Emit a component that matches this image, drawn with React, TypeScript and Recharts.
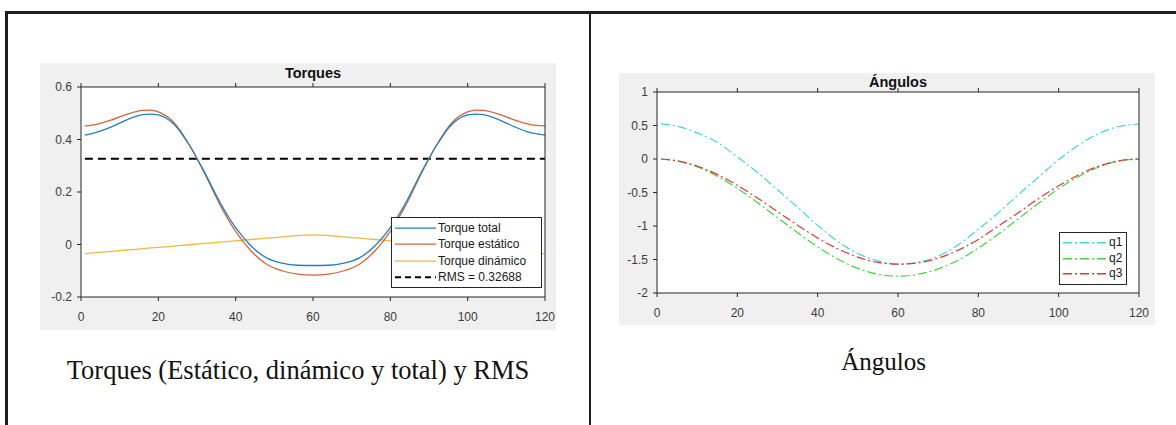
import React from 'react';
import { LineChart, Line, XAxis, YAxis, ReferenceLine, ReferenceArea, Legend } from 'recharts';

// ---- Torques panel data ----
const torqueX = [1, 4, 8, 12, 16, 18, 20, 24, 28, 32, 36, 40, 44, 48, 52, 56, 60, 64, 68, 72, 76, 80, 84, 88, 92, 96, 100, 102, 104, 108, 112, 116, 120];
const torqueTotal = [0.417, 0.427, 0.449, 0.476, 0.495, 0.497, 0.494, 0.459, 0.379, 0.274, 0.159, 0.064, -0.006, -0.051, -0.071, -0.079, -0.08, -0.079, -0.071, -0.051, -0.006, 0.064, 0.159, 0.274, 0.379, 0.459, 0.494, 0.497, 0.495, 0.476, 0.449, 0.427, 0.417];
const torqueStatic = [0.452, 0.458, 0.475, 0.497, 0.511, 0.512, 0.505, 0.465, 0.38, 0.27, 0.15, 0.05, -0.025, -0.075, -0.1, -0.113, -0.117, -0.113, -0.1, -0.075, -0.025, 0.05, 0.15, 0.27, 0.38, 0.465, 0.505, 0.512, 0.511, 0.497, 0.475, 0.458, 0.452];
const torqueDynamic = [-0.035, -0.031, -0.026, -0.021, -0.016, -0.013, -0.011, -0.006, -0.001, 0.004, 0.009, 0.014, 0.019, 0.024, 0.029, 0.034, 0.037, 0.034, 0.029, 0.024, 0.019, 0.014, 0.009, 0.004, -0.001, -0.006, -0.011, -0.013, -0.016, -0.021, -0.026, -0.031, -0.035];
const rmsValue = 0.32688;
const torqueXTicks = [0, 20, 40, 60, 80, 100, 120];
const torqueYTicks = [-0.2, 0, 0.2, 0.4, 0.6];

// ---- Angles panel data ----
const angleX = [1, 5, 10, 15, 20, 25, 30, 35, 40, 45, 50, 55, 60, 65, 70, 75, 80, 85, 90, 95, 100, 105, 110, 115, 120];
const q1 = [0.525, 0.49, 0.39, 0.25, 0.03, -0.2, -0.46, -0.72, -0.99, -1.23, -1.41, -1.52, -1.57, -1.54, -1.45, -1.28, -1.05, -0.8, -0.53, -0.27, -0.01, 0.21, 0.38, 0.485, 0.52];
const q2 = [0, -0.03, -0.117, -0.256, -0.437, -0.649, -0.875, -1.1, -1.31, -1.494, -1.633, -1.72, -1.75, -1.72, -1.64, -1.51, -1.33, -1.12, -0.89, -0.66, -0.44, -0.26, -0.12, -0.03, 0];
const q3 = [0, -0.027, -0.105, -0.23, -0.393, -0.582, -0.785, -0.988, -1.178, -1.34, -1.465, -1.544, -1.57, -1.55, -1.48, -1.36, -1.2, -1.0, -0.8, -0.59, -0.4, -0.235, -0.105, -0.027, 0];
const angleXTicks = [0, 20, 40, 60, 80, 100, 120];
const angleYTicks = [-2, -1.5, -1, -0.5, 0, 0.5, 1];

const torqueData = torqueX.map((x, i) => ({
  x,
  total: torqueTotal[i],
  estatico: torqueStatic[i],
  dinamico: torqueDynamic[i],
}));
const angleData = angleX.map((x, i) => ({ x, q1: q1[i], q2: q2[i], q3: q3[i] }));

const FONT = '"Liberation Sans", Arial, Helvetica, sans-serif';
const SERIF = '"Liberation Serif", "Times New Roman", serif';
const AXIS = '#262626';
const TICK_TEXT = { fontSize: 12, fill: '#3c3c3c', fontFamily: FONT };
const FIG_BG = '#f0f0f0';

const C_BLUE = '#1f80c4';
const C_ORANGE = '#d9633a';
const C_YELLOW = '#eebb3a';
const C_CYAN = '#3fd6e0';
const C_GREEN = '#3ed83e';
const C_RED = '#dc3a3a';
const DASH_DOT = '9 3 2 3';

const noTick = () => <g />;

type LegendItem = { label: string; color: string; dash?: string; width?: number };

function makeLegend(items: LegendItem[], boxW: number, rowH: number, sampleW: number) {
  return () => (
    <div
      style={{
        width: boxW,
        background: '#ffffff',
        border: `1px solid ${AXIS}`,
        boxSizing: 'border-box',
        padding: '2px 0 2px 3px',
        fontFamily: FONT,
        fontSize: 12,
        color: '#1a1a1a',
        lineHeight: `${rowH}px`,
      }}
    >
      {items.map((it) => (
        <div key={it.label} style={{ display: 'flex', alignItems: 'center', height: rowH, whiteSpace: 'nowrap' }}>
          <svg width={sampleW} height={rowH} style={{ display: 'block', flex: 'none' }}>
            <line
              x1={0}
              x2={sampleW}
              y1={rowH / 2}
              y2={rowH / 2}
              stroke={it.color}
              strokeWidth={it.width ?? 1.4}
              strokeDasharray={it.dash}
            />
          </svg>
          <span style={{ marginLeft: 2 }}>{it.label}</span>
        </div>
      ))}
    </div>
  );
}

const torqueLegend = makeLegend(
  [
    { label: 'Torque total', color: C_BLUE },
    { label: 'Torque estático', color: C_ORANGE },
    { label: 'Torque dinámico', color: C_YELLOW },
    { label: 'RMS = 0.32688', color: '#000000', dash: '6 4', width: 2 },
  ],
  151,
  16.3,
  41
);

const angleLegend = makeLegend(
  [
    { label: 'q1', color: C_CYAN, dash: DASH_DOT },
    { label: 'q2', color: C_GREEN, dash: DASH_DOT },
    { label: 'q3', color: C_RED, dash: DASH_DOT },
  ],
  68,
  15.5,
  44
);

function TorquesChart() {
  return (
    <LineChart width={516} height={267} data={torqueData} margin={{ top: 0, right: 0, bottom: 0, left: 0 }}>
      <XAxis
        xAxisId="b"
        dataKey="x"
        type="number"
        domain={[0, 120]}
        ticks={torqueXTicks}
        height={33}
        tickSize={4}
        tickMargin={11}
        stroke={AXIS}
        tick={TICK_TEXT}
        allowDataOverflow
      />
      <XAxis xAxisId="t" orientation="top" dataKey="x" type="number" domain={[0, 120]} ticks={torqueXTicks} height={24} tickSize={4} stroke={AXIS} tick={noTick} />
      <YAxis
        yAxisId="l"
        type="number"
        domain={[-0.2, 0.6]}
        ticks={torqueYTicks}
        width={41}
        tickSize={4}
        tickMargin={5}
        stroke={AXIS}
        tick={TICK_TEXT}
        tickFormatter={(v: number) => String(v)}
        allowDataOverflow
      />
      <YAxis yAxisId="r" orientation="right" type="number" domain={[-0.2, 0.6]} ticks={torqueYTicks} width={11} tickSize={4} stroke={AXIS} tick={noTick} />
      {/* white axes background */}
      <ReferenceArea xAxisId="b" yAxisId="l" x1={0} x2={120} y1={-0.2} y2={0.6} fill="#ffffff" fillOpacity={1} stroke="none" />
      <ReferenceLine
        xAxisId="b"
        yAxisId="l"
        segment={[
          { x: 1, y: rmsValue },
          { x: 120, y: rmsValue },
        ]}
        stroke="#000000"
        strokeWidth={2}
        strokeDasharray="8 5"
        ifOverflow="visible"
      />
      <Line xAxisId="b" yAxisId="l" type="monotoneX" dataKey="dinamico" stroke={C_YELLOW} strokeWidth={1.3} dot={false} isAnimationActive={false} />
      <Line xAxisId="b" yAxisId="l" type="monotoneX" dataKey="estatico" stroke={C_ORANGE} strokeWidth={1.3} dot={false} isAnimationActive={false} />
      <Line xAxisId="b" yAxisId="l" type="monotoneX" dataKey="total" stroke={C_BLUE} strokeWidth={1.3} dot={false} isAnimationActive={false} />
      <Legend layout="vertical" align="center" verticalAlign="middle" content={torqueLegend} wrapperStyle={{ left: 351, top: 154, width: 151 }} />
    </LineChart>
  );
}

function AngulosChart() {
  return (
    <LineChart width={536} height={252} data={angleData} margin={{ top: 0, right: 0, bottom: 0, left: 0 }}>
      <XAxis
        xAxisId="b"
        dataKey="x"
        type="number"
        domain={[0, 120]}
        ticks={angleXTicks}
        height={32}
        tickSize={4}
        tickMargin={11}
        stroke={AXIS}
        tick={TICK_TEXT}
        allowDataOverflow
      />
      <XAxis xAxisId="t" orientation="top" dataKey="x" type="number" domain={[0, 120]} ticks={angleXTicks} height={19} tickSize={4} stroke={AXIS} tick={noTick} />
      <YAxis
        yAxisId="l"
        type="number"
        domain={[-2, 1]}
        ticks={angleYTicks}
        width={38}
        tickSize={4}
        tickMargin={5}
        stroke={AXIS}
        tick={TICK_TEXT}
        allowDataOverflow
      />
      <YAxis yAxisId="r" orientation="right" type="number" domain={[-2, 1]} ticks={angleYTicks} width={16} tickSize={4} stroke={AXIS} tick={noTick} />
      {/* white axes background */}
      <ReferenceArea xAxisId="b" yAxisId="l" x1={0} x2={120} y1={-2} y2={1} fill="#ffffff" fillOpacity={1} stroke="none" />
      <Line xAxisId="b" yAxisId="l" type="monotoneX" dataKey="q1" stroke={C_CYAN} strokeWidth={1.2} strokeDasharray={DASH_DOT} dot={false} isAnimationActive={false} />
      <Line xAxisId="b" yAxisId="l" type="monotoneX" dataKey="q2" stroke={C_GREEN} strokeWidth={1.2} strokeDasharray={DASH_DOT} dot={false} isAnimationActive={false} />
      <Line xAxisId="b" yAxisId="l" type="monotoneX" dataKey="q3" stroke={C_RED} strokeWidth={1.2} strokeDasharray={DASH_DOT} dot={false} isAnimationActive={false} />
      <Legend layout="vertical" align="center" verticalAlign="middle" content={angleLegend} wrapperStyle={{ left: 440, top: 159, width: 68 }} />
    </LineChart>
  );
}

const abs = (left: number, top: number, extra: React.CSSProperties = {}): React.CSSProperties => ({
  position: 'absolute',
  left,
  top,
  ...extra,
});

export default function App() {
  return (
    <div style={{ position: 'absolute', left: 0, top: 0, width: 1176, height: 425, background: '#ffffff', overflow: 'hidden' }}>
      {/* table rules */}
      <div style={abs(5, 11, { width: 1171, height: 2.5, background: '#1e1e1e' })} />
      <div style={abs(5, 11, { width: 2.5, height: 414, background: '#1e1e1e' })} />
      <div style={abs(588.5, 11, { width: 2.5, height: 414, background: '#1e1e1e' })} />

      {/* left figure */}
      <div style={abs(40, 63, { width: 516, height: 267, background: FIG_BG })}>
        <TorquesChart />
      </div>
      <div style={abs(81, 63, { width: 464, textAlign: 'center', fontFamily: FONT, fontWeight: 'bold', fontSize: 14.5, lineHeight: '20px', color: '#111' })}>
        Torques
      </div>
      <div style={abs(6, 353.5, { width: 584, textAlign: 'center', fontFamily: SERIF, fontSize: 26.5, lineHeight: '32px', color: '#111', whiteSpace: 'nowrap' })}>
        Torques (Estático, dinámico y total) y RMS
      </div>

      {/* right figure */}
      <div style={abs(619, 73, { width: 536, height: 252, background: FIG_BG })}>
        <AngulosChart />
      </div>
      <div style={abs(657, 72, { width: 482, textAlign: 'center', fontFamily: FONT, fontWeight: 'bold', fontSize: 14.5, lineHeight: '20px', color: '#111' })}>
        Ángulos
      </div>
      <div style={abs(591, 347, { width: 585, textAlign: 'center', fontFamily: SERIF, fontSize: 25, lineHeight: '30px', color: '#111' })}>
        Ángulos
      </div>
    </div>
  );
}
